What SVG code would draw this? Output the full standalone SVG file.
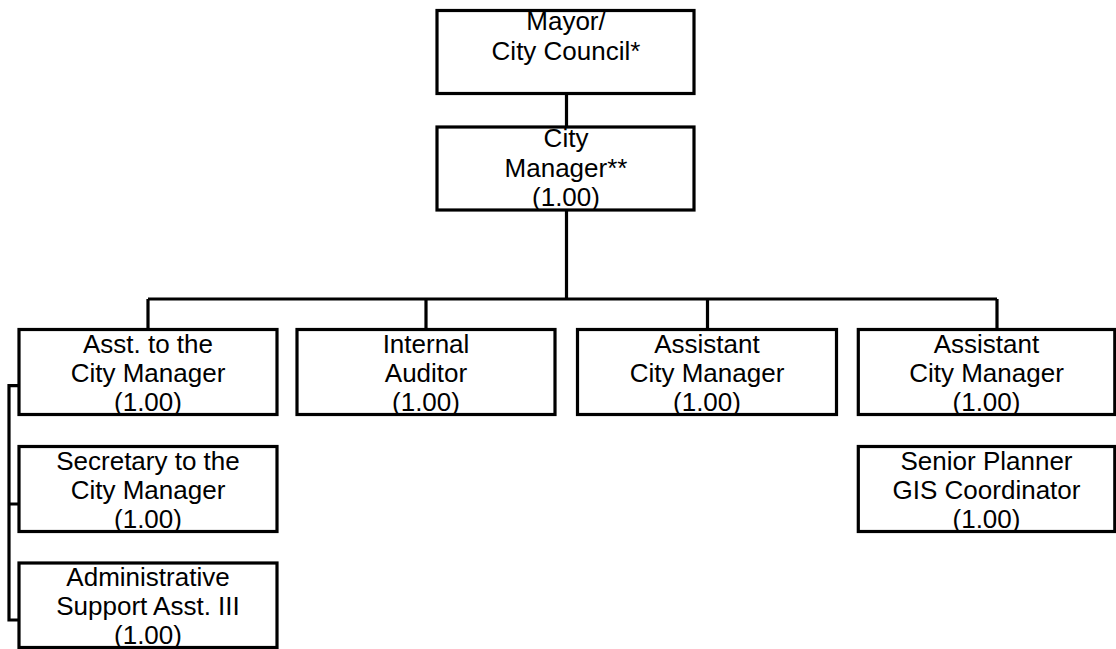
<svg xmlns="http://www.w3.org/2000/svg" width="1116" height="649" viewBox="0 0 1116 649">
<style>
.box{fill:#fff;stroke:#000;stroke-width:3.2}
.ln{fill:none;stroke:#000;stroke-width:3.2}
text{font-family:"Liberation Sans",Arial,sans-serif;font-size:26px;fill:#000;text-anchor:middle}
</style>
<rect width="1116" height="649" fill="#fff"/>
<g id="connectors">
<path class="ln" d="M566.5 93.5V127M566.5 210V299M148 299H997M148 299V329.5M426 299V329.5M707.5 299V329.5M997 299V329.5"/>
<path class="ln" d="M19 385.7H9V620H19M9 504H19"/>
</g>
<g id="mayor"><rect class="box" x="437" y="10.5" width="257" height="83"/>
<text x="566" y="29.5">Mayor/</text><text x="566" y="59.5">City Council*</text></g>
<g id="city-manager"><rect class="box" x="437" y="127" width="257" height="83"/>
<text x="566" y="147">City</text><text x="566" y="177">Manager**</text><text x="566" y="206">(1.00)</text></g>
<g id="asst-to-cm"><rect class="box" x="19" y="329.5" width="258" height="85"/>
<text x="148" y="352.7">Asst. to the</text><text x="148" y="381.7">City Manager</text><text x="148" y="410.5">(1.00)</text></g>
<g id="internal-auditor"><rect class="box" x="297" y="329.5" width="258" height="85"/>
<text x="426" y="352.7">Internal</text><text x="426" y="381.7">Auditor</text><text x="426" y="410.5">(1.00)</text></g>
<g id="acm-1"><rect class="box" x="577.5" y="329.5" width="259" height="85"/>
<text x="707" y="352.7">Assistant</text><text x="707" y="381.7">City Manager</text><text x="707" y="410.5">(1.00)</text></g>
<g id="acm-2"><rect class="box" x="858.3" y="329.5" width="256.5" height="85"/>
<text x="986.5" y="352.7">Assistant</text><text x="986.5" y="381.7">City Manager</text><text x="986.5" y="410.5">(1.00)</text></g>
<g id="secretary"><rect class="box" x="19" y="446.5" width="258" height="85"/>
<text x="148" y="469.5">Secretary to the</text><text x="148" y="498.5">City Manager</text><text x="148" y="527.5">(1.00)</text></g>
<g id="admin-support"><rect class="box" x="19" y="563" width="258" height="84.5"/>
<text x="148" y="586">Administrative</text><text x="148" y="615">Support Asst. III</text><text x="148" y="644">(1.00)</text></g>
<g id="senior-planner"><rect class="box" x="858.3" y="446.5" width="256.5" height="85"/>
<text x="986.5" y="469.5">Senior Planner</text><text x="986.5" y="498.5">GIS Coordinator</text><text x="986.5" y="527.5">(1.00)</text></g>
</svg>
